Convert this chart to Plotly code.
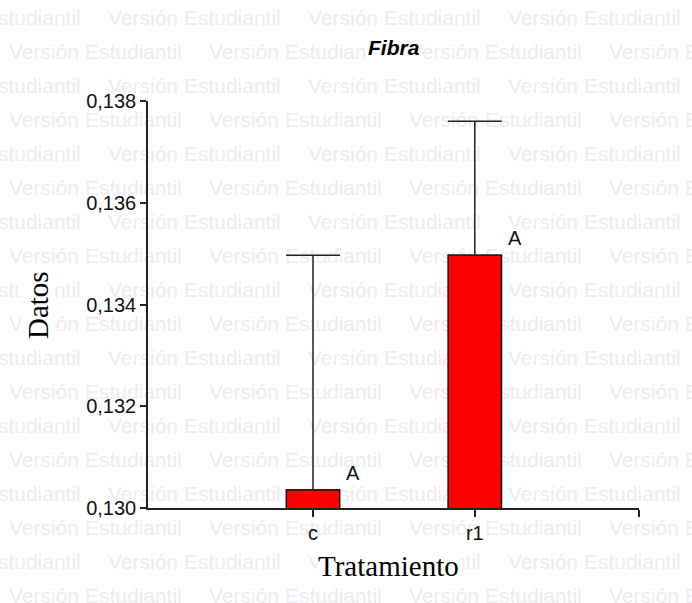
import plotly.graph_objects as go

# ---- data ----
categories = ["c", "r1"]
means = [0.13036, 0.13497]
upper_err = [0.00461, 0.00263]
letters = ["A", "A"]
y_ticks = [0.130, 0.132, 0.134, 0.136, 0.138]
y_range = [0.130, 0.138]
x_range = [-1.02, 2.015]
title_text = "Fibra"
x_title = "Tratamiento"
y_title = "Datos"
watermark = "Versión Estudiantil"

# ---- layout geometry (px) ----
W, H = 692, 603
L, R, T, B = 148, 639, 101, 508

fig = go.Figure()

# watermark on a full-figure helper subplot (drawn first, below the chart)
wm_x, wm_y, wm_t = [], [], []
for i in range(18):
    yy = 20 + 34 * i
    starts = [-92, 108, 308, 508] if i % 2 == 0 else [9, 209, 409, 609]
    for s in starts:
        wm_x.append(s)
        wm_y.append(yy)
        wm_t.append(watermark)
fig.add_trace(go.Scatter(
    x=wm_x, y=wm_y, text=wm_t, mode="text", textposition="middle right",
    textfont=dict(family="Liberation Sans, Arial, sans-serif", size=21, color="#ececf0"),
    hoverinfo="skip", showlegend=False, xaxis="x", yaxis="y", cliponaxis=True))

x_idx = list(range(len(categories)))
fig.add_trace(go.Bar(
    x=x_idx, y=means, width=0.33,
    marker=dict(color="#ff0000", line=dict(color="#111111", width=1.5)),
    error_y=dict(type="data", symmetric=False, array=upper_err,
                 arrayminus=[0] * len(means), color="#222222", thickness=1.5, width=27),
    xaxis="x2", yaxis="y2", showlegend=False, hoverinfo="skip"))

tick_font = dict(family="Liberation Sans, Arial, sans-serif", size=20, color="#111111")

annotations = []
for i, (m, lt) in enumerate(zip(means, letters)):
    annotations.append(dict(x=i, y=m, xref="x2", yref="y2", text=lt, showarrow=False,
                            xanchor="center", yanchor="middle",
                            xshift=40, yshift=17, font=tick_font))
annotations.append(dict(x=394 / W, y=1 - 48 / H, xref="paper", yref="paper", text=title_text,
                        xanchor="center", yanchor="middle",
                        showarrow=False, bgcolor="white", borderpad=0,
                        font=dict(family="Liberation Sans, Arial, sans-serif", size=21,
                                  color="black", weight="bold", style="italic")))
annotations.append(dict(x=38 / W, y=1 - 305 / H, xref="paper", yref="paper", text=y_title,
                        xanchor="center", yanchor="middle",
                        textangle=-90, showarrow=False, bgcolor="white", borderpad=0,
                        font=dict(family="Liberation Serif, Times New Roman, serif", size=29,
                                  color="black")))
annotations.append(dict(x=388 / W, y=1 - 566 / H, xref="paper", yref="paper", text=x_title,
                        xanchor="center", yanchor="middle",
                        showarrow=False, bgcolor="white", borderpad=0,
                        font=dict(family="Liberation Serif, Times New Roman, serif", size=29,
                                  color="black")))

fig.update_layout(
    width=W, height=H,
    margin=dict(l=0, r=0, t=0, b=0, autoexpand=False),
    paper_bgcolor="white", plot_bgcolor="rgba(0,0,0,0)",
    separators=",.",
    showlegend=False,
    annotations=annotations,
    xaxis=dict(domain=[0, 1], range=[0, W], visible=False, fixedrange=True),
    yaxis=dict(domain=[0, 1], range=[H, 0], visible=False, fixedrange=True),
    xaxis2=dict(domain=[L / W, R / W], anchor="y2", range=x_range,
                tickmode="array", tickvals=x_idx + [x_range[1]], ticktext=categories + [""],
                ticks="outside", ticklen=7, tickwidth=1.5, tickcolor="#222222",
                ticklabelstandoff=-1,
                showline=True, linecolor="#222222", linewidth=1.5,
                showgrid=False, zeroline=False, tickfont=tick_font, fixedrange=True),
    yaxis2=dict(domain=[1 - B / H, 1 - T / H], anchor="x2", range=y_range,
                tickmode="array", tickvals=y_ticks, tickformat=".3f",
                ticks="outside", ticklen=6, tickwidth=1.5, tickcolor="#222222",
                showline=True, linecolor="#222222", linewidth=1.5,
                showgrid=False, zeroline=False, tickfont=tick_font, fixedrange=True),
)

fig.write_html("out.html", config={"displayModeBar": False},
               post_script="document.body.style.margin='0px';")
